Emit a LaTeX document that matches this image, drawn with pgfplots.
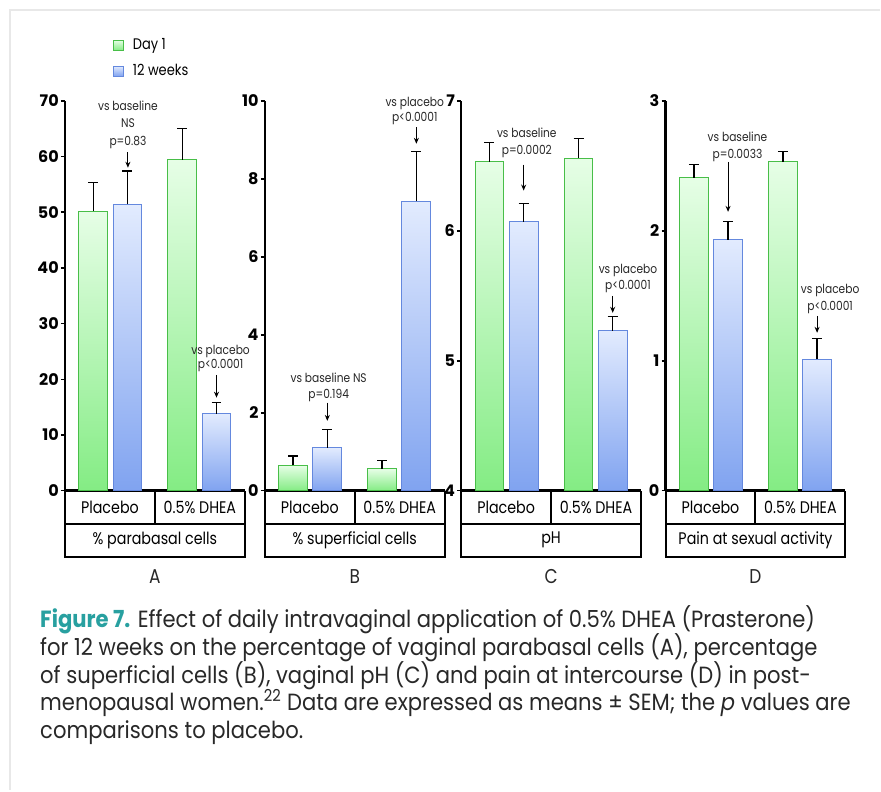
\documentclass[border=0pt]{standalone}
\usepackage{pgfplots}
\pgfplotsset{compat=1.18}
\usetikzlibrary{arrows.meta}
\usepackage{fontspec}
\setmainfont{Poppins}
\newfontfamily\cf[FakeStretch=0.85]{Poppins}
\newfontfamily\capf[FakeStretch=0.90]{Poppins}
\definecolor{gTop}{RGB}{230,254,230}
\definecolor{gBot}{RGB}{132,236,132}
\definecolor{gLine}{RGB}{72,190,72}
\definecolor{bTop}{RGB}{226,235,254}
\definecolor{bBot}{RGB}{128,163,240}
\definecolor{bLine}{RGB}{100,136,222}
\definecolor{capTeal}{RGB}{40,160,160}
\definecolor{txt}{RGB}{40,40,40}
\newcommand\tickfont{\fontsize{12pt}{12pt}\selectfont\bfseries}
\newcommand\annofont{\cf\fontsize{9.4pt}{11.25pt}\selectfont}
\newcommand\boxfont{\cf\fontsize{12.6pt}{13.5pt}\selectfont}
\newcommand\letfont{\cf\fontsize{15pt}{15pt}\selectfont}
\newcommand\legfont{\cf\fontsize{11.5pt}{11.5pt}\selectfont}
\newcommand\capsize{\capf\fontsize{17.6pt}{20.8pt}\selectfont}
\tikzset{
  arr/.style={-{Stealth[length=4.5pt, width=3.75pt]}, line width=0.825pt, black},
  anno/.style={font=\annofont, text=txt, anchor=mid, inner sep=0pt},
}
\pgfplotsset{
  panel/.style={scale only axis, width=135pt, height=292.5pt, xmin=0, xmax=2,
    axis lines=left, axis line style={-, line width=1.95pt, black},
    xtick=\empty, tick align=outside, major tick length=3pt,
    ytick style={line width=1.2pt, black},
    yticklabel style={font=\tickfont, text=black, inner sep=1.5pt},
    /pgf/number format/assume math mode=true,
    clip mode=individual},
  dayone/.style={ybar, bar width=0.32, bar shift=0pt, draw=gLine, line width=0.75pt,
    top color=gTop, bottom color=gBot,
    legend image code/.code={\draw[draw=gLine, line width=0.75pt, top color=gTop, bottom color=gBot] (0pt,-3.6pt) rectangle (7pt,3.9pt);}},
  twelve/.style={ybar, bar width=0.32, bar shift=0pt, draw=bLine, line width=0.75pt,
    top color=bTop, bottom color=bBot,
    legend image code/.code={\draw[draw=bLine, line width=0.75pt, top color=bTop, bottom color=bBot] (0pt,-3.6pt) rectangle (7pt,3.9pt);}},
  errs/.style={forget plot, draw=none, mark=none,
    error bars/.cd, y dir=plus, y explicit, error mark=|,
    error bar style={draw=black, line width=1.05pt},
    error mark options={draw=black, line width=1.05pt, mark size=3.75pt}},
}
\newcommand\boxes[2]{%
  \draw[line width=1.5pt] (rel axis cs:0,0) -- ++(0,-49.5pt) -- ++(135pt,0) -- ++(0,49.5pt);
  \draw[line width=1.5pt] ([yshift=-24.75pt]rel axis cs:0,0) -- ([yshift=-24.75pt]rel axis cs:1,0);
  \draw[line width=1.5pt] (rel axis cs:0.5,0) -- ([yshift=-24.75pt]rel axis cs:0.5,0);
  \node[font=\boxfont, text=black] at ([yshift=-12.375pt]rel axis cs:0.25,0) {Placebo};
  \node[font=\boxfont, text=black] at ([yshift=-12.375pt]rel axis cs:0.75,0) {0.5\% DHEA};
  \node[font=\boxfont, text=black] at ([yshift=-37.125pt]rel axis cs:0.5,0) {#1};
  \node[font=\letfont, text=txt] at ([yshift=-64.5pt]rel axis cs:0.5,0) {#2};
}
\begin{document}
\begin{tikzpicture}[x=0.75pt, y=0.75pt]
\path[fill=white] (0,0) rectangle (881,791);
\draw[gray!18, line width=0.9pt] (881,781) -- (10,781) -- (10,0);

% ---------- A ----------
\begin{axis}[panel, at={(48.75pt,225pt)}, anchor=south west, ymin=0, ymax=70, ytick={0,10,...,70},
  legend style={at={(0.267,1.165)}, anchor=north west, draw=none, fill=none, font=\legfont,
    inner sep=0pt, row sep=6.5pt, nodes={inner sep=1.5pt, text=black},
    /tikz/every odd column/.append style={column sep=5.5pt}},
  legend cell align=left]
\addplot[dayone] coordinates {(0.315,50.2)}; \addlegendentry{Day 1}
\addplot[twelve] coordinates {(0.695,51.4)}; \addlegendentry{12 weeks}
\addplot[dayone, forget plot] coordinates {(1.305,59.4)};
\addplot[twelve, forget plot] coordinates {(1.685,13.8)};
\addplot[errs] coordinates {(0.315,50.2) +- (0,5.1) (1.305,59.4) +- (0,5.6)};
\addplot[errs] coordinates {(0.695,51.4) +- (0,6.0) (1.685,13.8) +- (0,2.0)};
\node[anno] at (axis cs:0.70,68.9) {vs baseline};
\node[anno] at (axis cs:0.70,65.9) {NS};
\node[anno] at (axis cs:0.70,62.6) {p=0.83};
\draw[arr] (axis cs:0.70,60.8) -- (axis cs:0.70,58.0);
\node[anno] at (axis cs:1.73,25.2) {vs placebo};
\node[anno] at (axis cs:1.73,22.6) {p<0.0001};
\draw[arr] (axis cs:1.685,20.8) -- (axis cs:1.685,16.7);
\boxes{\% parabasal cells}{A}
\end{axis}

% ---------- B ----------
\begin{axis}[panel, at={(198.75pt,225pt)}, anchor=south west, ymin=0, ymax=10, ytick={0,2,...,10}]
\addplot[dayone, forget plot] coordinates {(0.315,0.65)};
\addplot[twelve, forget plot] coordinates {(0.695,1.10)};
\addplot[dayone, forget plot] coordinates {(1.305,0.56)};
\addplot[twelve, forget plot] coordinates {(1.685,7.42)};
\addplot[errs] coordinates {(0.315,0.65) +- (0,0.24) (1.305,0.56) +- (0,0.22)};
\addplot[errs] coordinates {(0.695,1.10) +- (0,0.47) (1.685,7.42) +- (0,1.28)};
\node[anno] at (axis cs:0.71,2.87) {vs baseline NS};
\node[anno] at (axis cs:0.71,2.46) {p=0.194};
\draw[arr] (axis cs:0.695,2.26) -- (axis cs:0.695,1.79);
\node[anno] at (axis cs:1.667,9.95) {vs placebo};
\node[anno] at (axis cs:1.667,9.56) {p<0.0001};
\draw[arr] (axis cs:1.685,9.33) -- (axis cs:1.685,8.90);
\boxes{\% superficial cells}{B}
\end{axis}

% ---------- C ----------
\begin{axis}[panel, at={(346.1pt,225pt)}, anchor=south west, y filter/.expression={y-4},
  ymin=0, ymax=3, ytick={0,1,2,3}, yticklabels={4,5,6,7}]
\addplot[dayone, forget plot] coordinates {(0.315,6.53)};
\addplot[twelve, forget plot] coordinates {(0.695,6.07)};
\addplot[dayone, forget plot] coordinates {(1.305,6.56)};
\addplot[twelve, forget plot] coordinates {(1.685,5.23)};
\addplot[errs] coordinates {(0.315,6.53) +- (0,0.15) (1.305,6.56) +- (0,0.15)};
\addplot[errs] coordinates {(0.695,6.07) +- (0,0.14) (1.685,5.23) +- (0,0.11)};
\node[anno] at (axis cs:0.73,2.745) {vs baseline};
\node[anno] at (axis cs:0.73,2.618) {p=0.0002};
\draw[arr] (axis cs:0.695,2.51) -- (axis cs:0.695,2.31);
\node[anno] at (axis cs:1.855,1.70) {vs placebo};
\node[anno] at (axis cs:1.855,1.577) {p<0.0001};
\draw[arr] (axis cs:1.685,1.50) -- (axis cs:1.685,1.369);
\boxes{pH}{C}
\end{axis}

% ---------- D ----------
\begin{axis}[panel, at={(499.5pt,225pt)}, anchor=south west, ymin=0, ymax=3, ytick={0,1,2,3}]
\addplot[dayone, forget plot] coordinates {(0.315,2.41)};
\addplot[twelve, forget plot] coordinates {(0.695,1.93)};
\addplot[dayone, forget plot] coordinates {(1.305,2.53)};
\addplot[twelve, forget plot] coordinates {(1.685,1.01)};
\addplot[errs] coordinates {(0.315,2.41) +- (0,0.10) (1.305,2.53) +- (0,0.08)};
\addplot[errs] coordinates {(0.695,1.93) +- (0,0.14) (1.685,1.01) +- (0,0.16)};
\node[anno] at (axis cs:0.80,2.715) {vs baseline};
\node[anno] at (axis cs:0.80,2.585) {p=0.0033};
\draw[arr] (axis cs:0.695,2.531) -- (axis cs:0.695,2.146);
\node[anno] at (axis cs:1.83,1.546) {vs placebo};
\node[anno] at (axis cs:1.83,1.415) {p<0.0001};
\draw[arr] (axis cs:1.685,1.346) -- (axis cs:1.685,1.215);
\boxes{Pain at sexual activity}{D}
\end{axis}

% ---------- caption ----------
\begin{scope}[every node/.style={anchor=mid west, inner sep=0pt, font=\capsize, text=txt}]
\node at (40,167) {{\color{capTeal}\bfseries Figure 7.} Effect of daily intravaginal application of 0.5\% DHEA (Prasterone)};
\node at (40,139) {for 12 weeks on the percentage of vaginal parabasal cells (A), percentage};
\node at (40,111) {of superficial cells (B), vaginal pH (C) and pain at intercourse (D) in post-};
\node at (40,84) {menopausal women.\textsuperscript{22} Data are expressed as means ± SEM; the \textit{p} values are};
\node at (40,56) {comparisons to placebo.};
\end{scope}
\end{tikzpicture}
\end{document}
